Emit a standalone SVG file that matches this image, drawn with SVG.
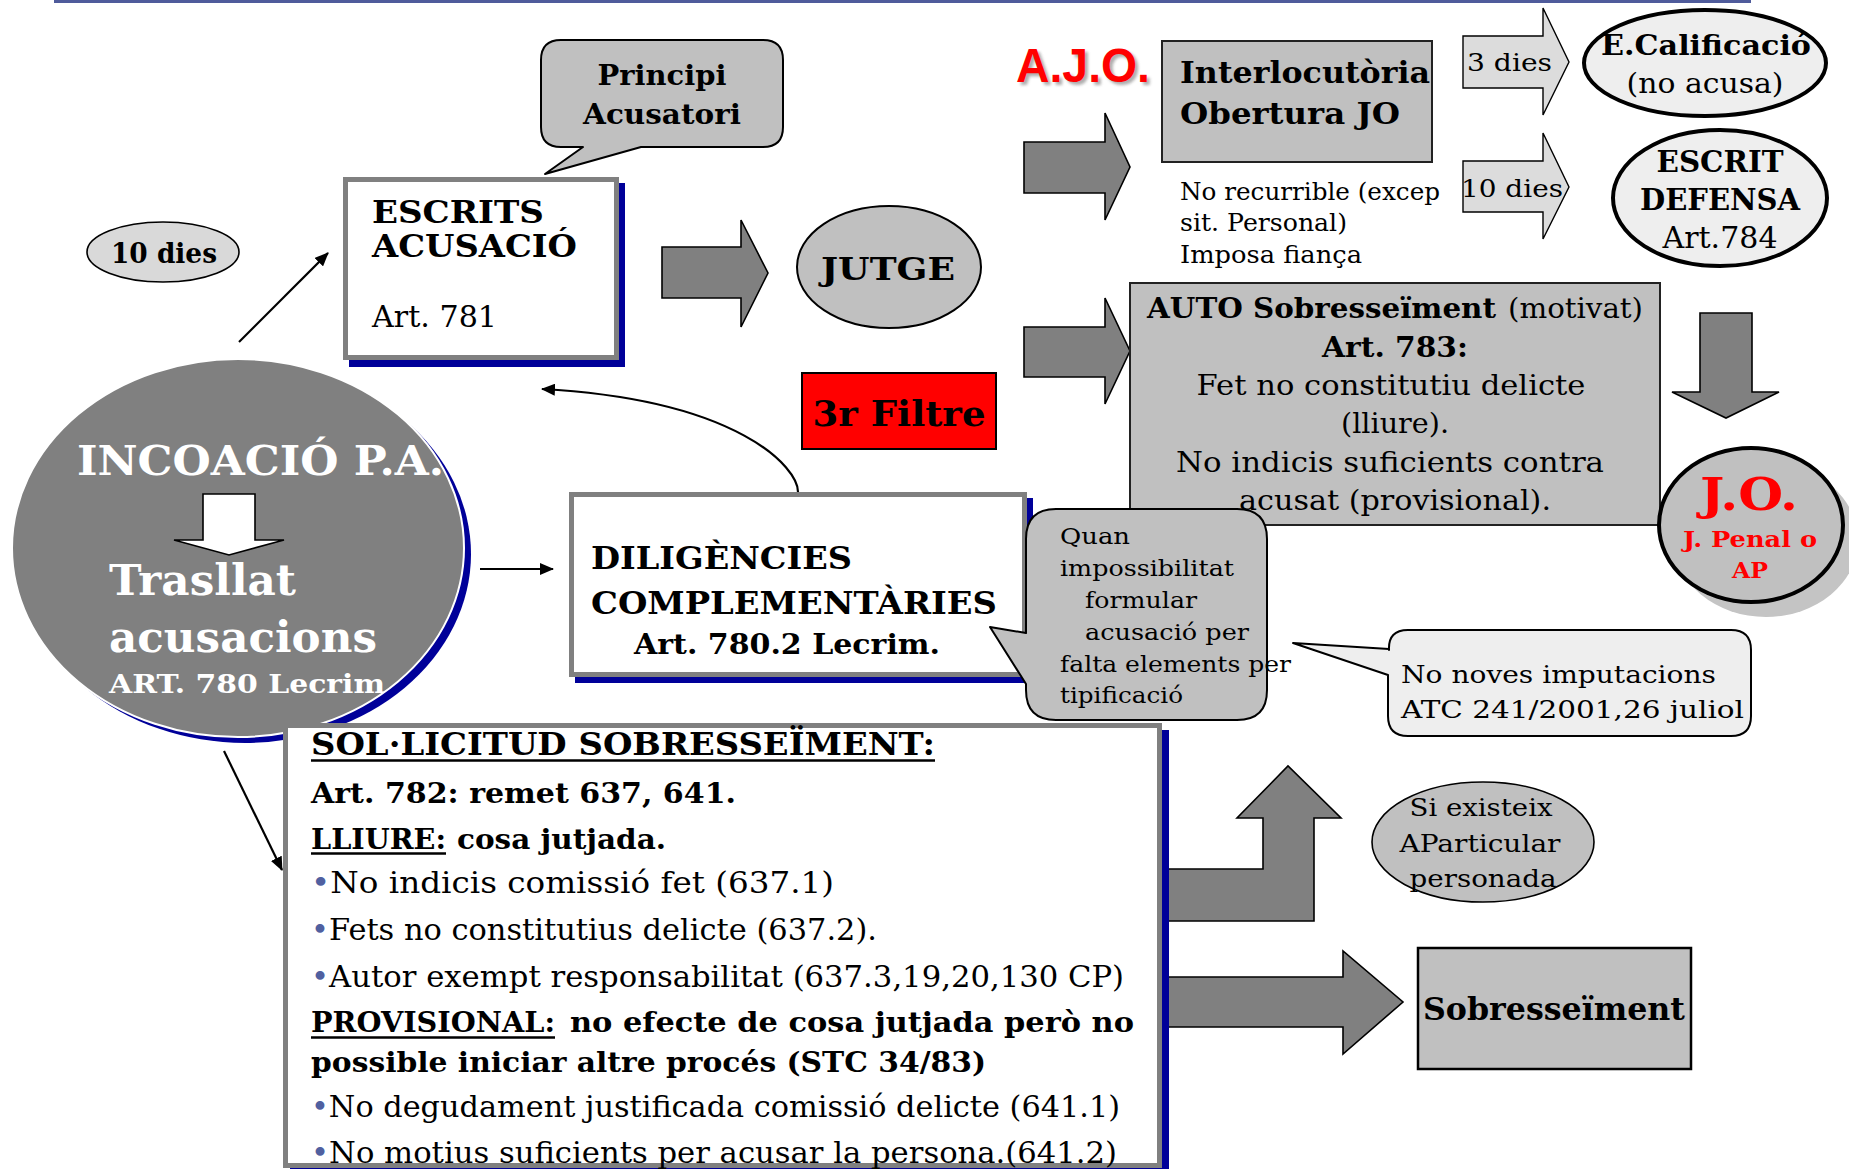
<svg xmlns="http://www.w3.org/2000/svg" width="1849" height="1169" viewBox="0 0 1849 1169">
<defs>
  <marker id="ah" markerWidth="14" markerHeight="12" refX="13" refY="6" orient="auto" markerUnits="userSpaceOnUse">
    <path d="M0,0 L14,6 L0,12 Z" fill="#000"/>
  </marker>
  <filter id="blur" x="-10%" y="-10%" width="120%" height="130%">
    <feGaussianBlur stdDeviation="1.6"/>
  </filter>
  <style>
    text { font-family: "DejaVu Serif", "Liberation Serif", serif; fill: #000; }
    .b { font-weight: bold; }
    .mid { text-anchor: middle; }
    .w { fill: #fff; }
    .red { fill: #ff0000; }
    .bul { fill: #5060a0; }
    .blk { fill: #808080; stroke: #000; stroke-width: 1.6; stroke-linejoin: miter; }
    .lblk { fill: #dcdcdc; stroke: #000; stroke-width: 1.4; }
    .thin { fill: none; stroke: #000; stroke-width: 2.2; marker-end: url(#ah); }
    .gbox { fill: #c0c0c0; stroke: #222; stroke-width: 2; }
    .wbox { fill: #fff; stroke: #808080; stroke-width: 5; }
    .shadow { fill: #000099; }
    .call { fill: #c0c0c0; stroke: #000; stroke-width: 2; stroke-linejoin: round; }
  </style>
</defs>
<rect x="0" y="0" width="1849" height="1169" fill="#fff"/>
<line x1="54" y1="1.5" x2="1751" y2="1.5" stroke="#4f5b9b" stroke-width="3"/>

<g id="connectors">
  <line class="thin" x1="239" y1="342" x2="328" y2="253"/>
  <line class="thin" x1="480" y1="569" x2="553" y2="569"/>
  <line class="thin" x1="224" y1="751" x2="282" y2="870"/>
  <path class="thin" d="M798,492 C798,468 740,400 542,389"/>
  <polygon class="blk" points="662,247 741,247 741,220 768,273 741,327 741,298 662,298"/>
  <polygon class="blk" points="1024,142 1105,142 1105,113 1130,167 1105,220 1105,193 1024,193"/>
  <polygon class="blk" points="1024,327 1105,327 1105,298 1130,351 1105,404 1105,377 1024,377"/>
  <polygon class="lblk" points="1463,36 1543,36 1543,8 1569,62 1543,115 1543,88 1463,88"/>
  <polygon class="lblk" points="1463,161 1543,161 1543,133 1569,187 1543,239 1543,212 1463,212"/>
  <polygon class="blk" points="1700,313 1752,313 1752,392 1779,392 1726,418 1672,392 1700,392"/>
  <polygon class="blk" points="1160,869 1263,869 1263,818 1237,818 1288,766 1341,818 1314,818 1314,921 1160,921"/>
  <polygon class="blk" points="1160,977 1343,977 1343,951 1403,1002 1343,1054 1343,1027 1160,1027"/>
  <text x="1467" y="71" font-size="25" textLength="85" lengthAdjust="spacingAndGlyphs">3 dies</text>
  <text x="1461" y="197" font-size="25" textLength="102" lengthAdjust="spacingAndGlyphs">10 dies</text>
</g>

<g id="incoacio">
  <ellipse cx="245" cy="554" rx="226" ry="189" class="shadow"/>
  <ellipse cx="238" cy="548" rx="226" ry="189" fill="#808080" stroke="#fff" stroke-width="2"/>
  <text class="b w" x="77" y="475" font-size="41" textLength="367" lengthAdjust="spacingAndGlyphs">INCOACIÓ P.A.</text>
  <polygon points="203,494 255,494 255,540 284,540 229,555 174,540 203,540" fill="#fff" stroke="#000" stroke-width="1.6"/>
  <text class="b w" x="109" y="595" font-size="43" textLength="187" lengthAdjust="spacingAndGlyphs">Trasllat</text>
  <text class="b w" x="109" y="652" font-size="43" textLength="268" lengthAdjust="spacingAndGlyphs">acusacions</text>
  <text class="b w" x="109" y="693" font-size="26" textLength="276" lengthAdjust="spacingAndGlyphs">ART. 780 Lecrim</text>
</g>

<g id="deu-dies">
  <ellipse cx="163" cy="252" rx="76" ry="30" fill="#d9d9d9" stroke="#000" stroke-width="1.6"/>
  <text class="b mid" x="164" y="263" font-size="28" textLength="106" lengthAdjust="spacingAndGlyphs">10 dies</text>
</g>

<g id="escrits">
  <rect x="349" y="183" width="276" height="184" class="shadow"/>
  <rect x="345.5" y="179.5" width="271" height="178" class="wbox"/>
  <text class="b" x="372" y="223" font-size="31" textLength="172" lengthAdjust="spacingAndGlyphs">ESCRITS</text>
  <text class="b" x="372" y="257" font-size="31" textLength="205" lengthAdjust="spacingAndGlyphs">ACUSACIÓ</text>
  <text x="372" y="327" font-size="29" textLength="125" lengthAdjust="spacingAndGlyphs">Art. 781</text>
</g>

<g id="principi">
  <path class="call" d="M561,40 H763 Q783,40 783,60 V127 Q783,147 763,147 H641 L545,174 L583,147 H561 Q541,147 541,127 V60 Q541,40 561,40 Z"/>
  <text class="b mid" x="662" y="85" font-size="28" textLength="129" lengthAdjust="spacingAndGlyphs">Principi</text>
  <text class="b mid" x="662" y="124" font-size="28" textLength="158" lengthAdjust="spacingAndGlyphs">Acusatori</text>
</g>

<g id="jutge">
  <ellipse cx="889" cy="267" rx="92" ry="61" fill="#c0c0c0" stroke="#000" stroke-width="2"/>
  <text class="b mid" x="888" y="280" font-size="31" textLength="134" lengthAdjust="spacingAndGlyphs">JUTGE</text>
</g>

<g id="filtre">
  <rect x="802" y="373" width="194" height="76" fill="#ff0000" stroke="#000" stroke-width="2"/>
  <text class="b mid" x="899" y="426" font-size="36" textLength="173" lengthAdjust="spacingAndGlyphs">3r Filtre</text>
</g>

<g id="diligencies">
  <rect x="575" y="498" width="458" height="185" class="shadow"/>
  <rect x="571.5" y="494.5" width="453" height="180" class="wbox"/>
  <text class="b" x="591" y="569" font-size="32" textLength="261" lengthAdjust="spacingAndGlyphs">DILIGÈNCIES</text>
  <text class="b" x="591" y="614" font-size="32" textLength="406" lengthAdjust="spacingAndGlyphs">COMPLEMENTÀRIES</text>
  <text class="b" x="634" y="654" font-size="28" textLength="306" lengthAdjust="spacingAndGlyphs">Art. 780.2 Lecrim.</text>
</g>

<g id="sollicitud">
  <rect x="290" y="730" width="879" height="460" class="shadow"/>
  <rect x="285.5" y="725.5" width="874" height="440" class="wbox"/>
  <text class="b" x="311" y="755" font-size="31" textLength="624" lengthAdjust="spacingAndGlyphs">SOL·LICITUD SOBRESSEÏMENT:</text>
  <line x1="311" y1="760.5" x2="935" y2="760.5" stroke="#000" stroke-width="2.5"/>
  <text class="b" x="311" y="803" font-size="28" textLength="425" lengthAdjust="spacingAndGlyphs">Art. 782: remet 637, 641.</text>
  <text class="b" x="311" y="849" font-size="28" textLength="135" lengthAdjust="spacingAndGlyphs">LLIURE:</text>
  <line x1="311" y1="853.5" x2="446" y2="853.5" stroke="#000" stroke-width="2.5"/>
  <text class="b" x="457" y="849" font-size="28" textLength="209" lengthAdjust="spacingAndGlyphs">cosa jutjada.</text>
  <text x="311" y="893" font-size="29" textLength="523" lengthAdjust="spacingAndGlyphs"><tspan class="bul">•</tspan>No indicis comissió fet (637.1)</text>
  <text x="311" y="940" font-size="29" textLength="566" lengthAdjust="spacingAndGlyphs"><tspan class="bul">•</tspan>Fets no constitutius delicte (637.2).</text>
  <text x="311" y="987" font-size="29" textLength="813" lengthAdjust="spacingAndGlyphs"><tspan class="bul">•</tspan>Autor exempt responsabilitat (637.3,19,20,130 CP)</text>
  <text class="b" x="311" y="1032" font-size="28" textLength="244" lengthAdjust="spacingAndGlyphs">PROVISIONAL:</text>
  <line x1="311" y1="1037.5" x2="555" y2="1037.5" stroke="#000" stroke-width="2.5"/>
  <text class="b" x="570" y="1032" font-size="28" textLength="564" lengthAdjust="spacingAndGlyphs">no efecte de cosa jutjada però no</text>
  <text class="b" x="311" y="1072" font-size="28" textLength="675" lengthAdjust="spacingAndGlyphs">possible iniciar altre procés (STC 34/83)</text>
  <text x="311" y="1117" font-size="29" textLength="809" lengthAdjust="spacingAndGlyphs"><tspan class="bul">•</tspan>No degudament justificada comissió delicte (641.1)</text>
  <text x="311" y="1163" font-size="29" textLength="806" lengthAdjust="spacingAndGlyphs"><tspan class="bul">•</tspan>No motius suficients per acusar la persona.(641.2)</text>
</g>

<g id="ajo">
  <text x="1019" y="85" font-size="48" font-weight="bold" style="font-family:'Liberation Sans',Arial,sans-serif;fill:#777;opacity:0.6" filter="url(#blur)" textLength="134" lengthAdjust="spacingAndGlyphs">A.J.O.</text>
  <text x="1016" y="82" font-size="48" font-weight="bold" style="font-family:'Liberation Sans',Arial,sans-serif;fill:#ff0000" textLength="134" lengthAdjust="spacingAndGlyphs">A.J.O.</text>
</g>

<g id="interlocutoria">
  <rect x="1162" y="41" width="270" height="121" class="gbox"/>
  <text class="b" x="1180" y="83" font-size="29" textLength="250" lengthAdjust="spacingAndGlyphs">Interlocutòria</text>
  <text class="b" x="1180" y="124" font-size="29" textLength="220" lengthAdjust="spacingAndGlyphs">Obertura JO</text>
  <text x="1180" y="200" font-size="24" textLength="260" lengthAdjust="spacingAndGlyphs">No recurrible (excep</text>
  <text x="1180" y="231" font-size="24" textLength="167" lengthAdjust="spacingAndGlyphs">sit. Personal)</text>
  <text x="1180" y="263" font-size="24" textLength="182" lengthAdjust="spacingAndGlyphs">Imposa fiança</text>
</g>

<g id="calificacio">
  <ellipse cx="1705" cy="63" rx="121" ry="53" fill="#eeeeee" stroke="#000" stroke-width="4"/>
  <text class="b mid" x="1706" y="55" font-size="27" textLength="210" lengthAdjust="spacingAndGlyphs">E.Calificació</text>
  <text class="mid" x="1705" y="93" font-size="27" textLength="157" lengthAdjust="spacingAndGlyphs">(no acusa)</text>
</g>

<g id="defensa">
  <ellipse cx="1720" cy="198" rx="107" ry="68" fill="#eeeeee" stroke="#000" stroke-width="4"/>
  <text class="b mid" x="1720" y="172" font-size="29" textLength="127" lengthAdjust="spacingAndGlyphs">ESCRIT</text>
  <text class="b mid" x="1720" y="210" font-size="29" textLength="160" lengthAdjust="spacingAndGlyphs">DEFENSA</text>
  <text class="mid" x="1720" y="248" font-size="29" textLength="115" lengthAdjust="spacingAndGlyphs">Art.784</text>
</g>

<g id="auto">
  <rect x="1130" y="283" width="530" height="242" class="gbox"/>
  <text class="b" x="1147" y="318" font-size="28" textLength="349" lengthAdjust="spacingAndGlyphs">AUTO Sobresseïment</text>
  <text x="1508" y="318" font-size="28" textLength="135" lengthAdjust="spacingAndGlyphs">(motivat)</text>
  <text class="b mid" x="1395" y="357" font-size="28" textLength="146" lengthAdjust="spacingAndGlyphs">Art. 783:</text>
  <text class="mid" x="1391" y="395" font-size="28" textLength="389" lengthAdjust="spacingAndGlyphs">Fet no constitutiu delicte</text>
  <text class="mid" x="1395" y="433" font-size="28" textLength="108" lengthAdjust="spacingAndGlyphs">(lliure).</text>
  <text class="mid" x="1390" y="472" font-size="28" textLength="428" lengthAdjust="spacingAndGlyphs">No indicis suficients contra</text>
  <text class="mid" x="1395" y="510" font-size="28" textLength="312" lengthAdjust="spacingAndGlyphs">acusat (provisional).</text>
</g>

<g id="quan">
  <path class="call" d="M1056,509 H1237 Q1267,509 1267,539 V690 Q1267,720 1237,720 H1056 Q1026,720 1026,690 V684 L990,627 L1026,633 V539 Q1026,509 1056,509 Z"/>
  <text x="1060" y="544" font-size="23" textLength="70" lengthAdjust="spacingAndGlyphs">Quan</text>
  <text x="1060" y="576" font-size="23" textLength="174" lengthAdjust="spacingAndGlyphs">impossibilitat</text>
  <text x="1085" y="608" font-size="23" textLength="112" lengthAdjust="spacingAndGlyphs">formular</text>
  <text x="1085" y="640" font-size="23" textLength="164" lengthAdjust="spacingAndGlyphs">acusació per</text>
  <text x="1060" y="672" font-size="23" textLength="231" lengthAdjust="spacingAndGlyphs">falta elements per</text>
  <text x="1060" y="703" font-size="23" textLength="123" lengthAdjust="spacingAndGlyphs">tipificació</text>
</g>

<g id="jo">
  <ellipse cx="1766" cy="540" rx="92" ry="77" fill="#c4c4c4"/>
  <ellipse cx="1751" cy="525" rx="92" ry="77" fill="#c0c0c0" stroke="#000" stroke-width="4"/>
  <text class="b mid red" x="1749" y="510" font-size="45" textLength="98" lengthAdjust="spacingAndGlyphs">J.O.</text>
  <text class="b mid red" x="1750" y="547" font-size="23" textLength="134" lengthAdjust="spacingAndGlyphs">J. Penal o</text>
  <text class="b mid red" x="1750" y="578" font-size="23" textLength="36" lengthAdjust="spacingAndGlyphs">AP</text>
</g>

<g id="no-noves">
  <path d="M1408,630 H1731 Q1751,630 1751,650 V716 Q1751,736 1731,736 H1408 Q1388,736 1388,716 V675 L1293,643 L1389,649 V650 Q1388,630 1408,630 Z" fill="#eeeeee" stroke="#000" stroke-width="2" stroke-linejoin="round"/>
  <text x="1401" y="683" font-size="25" textLength="315" lengthAdjust="spacingAndGlyphs">No noves imputacions</text>
  <text x="1401" y="718" font-size="25" textLength="343" lengthAdjust="spacingAndGlyphs">ATC 241/2001,26 juliol</text>
</g>

<g id="si-existeix">
  <ellipse cx="1483" cy="842" rx="111" ry="60" fill="#c0c0c0" stroke="#000" stroke-width="1.6"/>
  <text class="mid" x="1481" y="816" font-size="25" textLength="143" lengthAdjust="spacingAndGlyphs">Si existeix</text>
  <text class="mid" x="1480" y="852" font-size="25" textLength="161" lengthAdjust="spacingAndGlyphs">AParticular</text>
  <text class="mid" x="1483" y="887" font-size="25" textLength="147" lengthAdjust="spacingAndGlyphs">personada</text>
</g>

<g id="sobresseiment">
  <rect x="1418" y="948" width="273" height="121" fill="#c0c0c0" stroke="#000" stroke-width="2.5"/>
  <text class="b" x="1423" y="1020" font-size="31" textLength="262" lengthAdjust="spacingAndGlyphs">Sobresseïment</text>
</g>
</svg>
